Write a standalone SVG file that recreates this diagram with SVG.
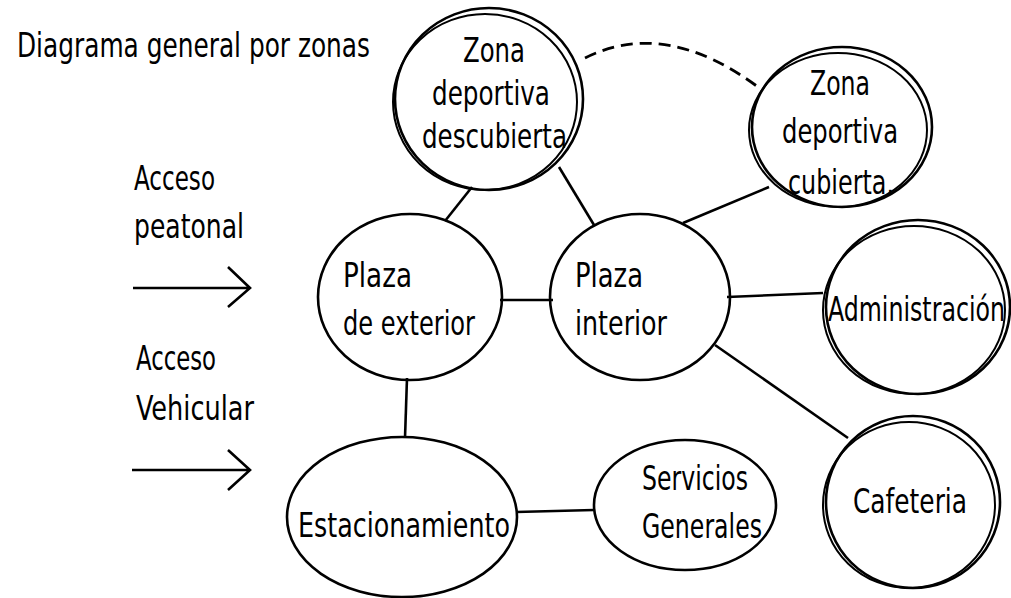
<svg xmlns="http://www.w3.org/2000/svg" width="1011" height="598" viewBox="0 0 1011 598">
<style>
  .n { fill: none; stroke: #000; stroke-width: 2.6; }
  .n2 { fill: none; stroke: #000; stroke-width: 2; }
  .c { fill: none; stroke: #000; stroke-width: 2.6; stroke-linecap: butt; }
  .d { fill: none; stroke: #000; stroke-width: 2.8; stroke-dasharray: 12 7; }
  text { font-family: "DejaVu Sans Condensed", "Liberation Sans", sans-serif; font-size: 33px; fill: #000; }
</style>
<rect width="1011" height="598" fill="#fff"/>
<text x="17" y="57" textLength="353" lengthAdjust="spacingAndGlyphs">Diagrama general por zonas</text>
<g id="acceso-peatonal">
  <text x="134" y="190" textLength="81" lengthAdjust="spacingAndGlyphs">Acceso</text>
  <text x="134" y="238" textLength="110" lengthAdjust="spacingAndGlyphs">peatonal</text>
  <path class="c" d="M133 288 H250 M228 267 L250 288 L228 307"/>
</g>
<g id="acceso-vehicular">
  <text x="136" y="370" textLength="80" lengthAdjust="spacingAndGlyphs">Acceso</text>
  <text x="136" y="420" textLength="118" lengthAdjust="spacingAndGlyphs">Vehicular</text>
  <path class="c" d="M132 470 H250 M228 450 L250 470 L228 490"/>
</g>
<g id="connectors">
  <path class="c" d="M500 300 H553"/>
  <path class="c" d="M445 221 L472 187"/>
  <path class="c" d="M594 225 L559 167"/>
  <path class="c" d="M683 223 L769 187"/>
  <path class="c" d="M727 297 L823 293"/>
  <path class="c" d="M715 345 L848 438"/>
  <path class="c" d="M407 378 L405 438"/>
  <path class="c" d="M516 512 L594 510"/>
  <path class="d" d="M585 58 Q665 18 758 87"/>
</g>
<g id="zona-descubierta">
  <ellipse class="n" cx="489" cy="99" rx="94" ry="91"/>
  <ellipse class="n2" cx="485" cy="102" rx="92" ry="88"/>
  <text x="463" y="62" textLength="62" lengthAdjust="spacingAndGlyphs">Zona</text>
  <text x="432" y="105" textLength="118" lengthAdjust="spacingAndGlyphs">deportiva</text>
  <text x="422" y="148" textLength="145" lengthAdjust="spacingAndGlyphs">descubierta</text>
</g>
<g id="zona-cubierta">
  <ellipse class="n" cx="842" cy="127" rx="90" ry="80"/>
  <ellipse class="n2" cx="838" cy="130" rx="89" ry="77"/>
  <text x="810" y="95" textLength="60" lengthAdjust="spacingAndGlyphs">Zona</text>
  <text x="782" y="143" textLength="116" lengthAdjust="spacingAndGlyphs">deportiva</text>
  <text x="788" y="194" textLength="106" lengthAdjust="spacingAndGlyphs">cubierta.</text>
</g>
<g id="plaza-exterior">
  <ellipse class="n" cx="410" cy="297" rx="92" ry="83"/>
  <text x="343" y="287" textLength="69" lengthAdjust="spacingAndGlyphs">Plaza</text>
  <text x="343" y="335" textLength="132" lengthAdjust="spacingAndGlyphs">de exterior</text>
</g>
<g id="plaza-interior">
  <ellipse class="n" cx="640" cy="297" rx="90" ry="83"/>
  <text x="575" y="287" textLength="68" lengthAdjust="spacingAndGlyphs">Plaza</text>
  <text x="575" y="335" textLength="92" lengthAdjust="spacingAndGlyphs">interior</text>
</g>
<g id="administracion">
  <ellipse class="n" cx="918" cy="307" rx="92" ry="87"/>
  <ellipse class="n2" cx="914" cy="310" rx="91" ry="84"/>
  <text x="828" y="321" textLength="177" lengthAdjust="spacingAndGlyphs">Administración</text>
</g>
<g id="cafeteria">
  <ellipse class="n" cx="913" cy="502" rx="87" ry="86"/>
  <ellipse class="n2" cx="909" cy="505" rx="86" ry="83"/>
  <text x="853" y="513" textLength="114" lengthAdjust="spacingAndGlyphs">Cafeteria</text>
</g>
<g id="estacionamiento">
  <ellipse class="n" cx="402" cy="517" rx="115" ry="80"/>
  <text x="298" y="537" textLength="212" lengthAdjust="spacingAndGlyphs">Estacionamiento</text>
</g>
<g id="servicios">
  <ellipse class="n" cx="685" cy="505" rx="91" ry="65"/>
  <text x="642" y="490" textLength="106" lengthAdjust="spacingAndGlyphs">Servicios</text>
  <text x="642" y="538" textLength="120" lengthAdjust="spacingAndGlyphs">Generales</text>
</g>
</svg>
